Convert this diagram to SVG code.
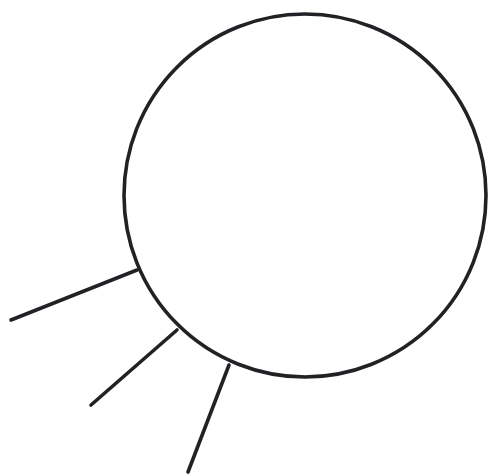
<svg xmlns="http://www.w3.org/2000/svg" width="489" height="476" viewBox="0 0 489 476">
<style>
.s{fill:none;stroke:#222226;stroke-width:3.6;stroke-linecap:round}
</style>
<rect width="489" height="476" fill="#ffffff"/>
<g id="connectors">
<line class="s" x1="137" y1="270" x2="11" y2="320"/>
<line class="s" x1="177" y1="330" x2="91" y2="405"/>
<line class="s" x1="229" y1="365" x2="188" y2="472"/>
</g>
<g id="circle">
<ellipse class="s" cx="305" cy="195.5" rx="181" ry="181.5"/>
</g>
</svg>
